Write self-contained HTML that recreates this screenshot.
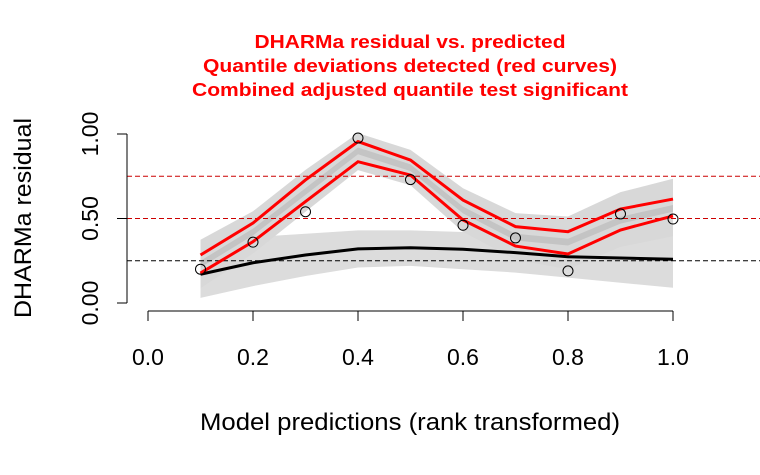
<!DOCTYPE html>
<html><head><meta charset="utf-8"><style>
body{margin:0;background:#fff}
svg text{font-family:"Liberation Sans",Arial,sans-serif}
</style></head><body>
<svg id="c" width="760" height="470">
<g fill="#ff0000" font-weight="bold" font-size="18" text-anchor="middle">
<text x="410" y="48" textLength="311" lengthAdjust="spacingAndGlyphs">DHARMa residual vs. predicted</text>
<text x="410" y="72" textLength="414" lengthAdjust="spacingAndGlyphs">Quantile deviations detected (red curves)</text>
<text x="410" y="96" textLength="436" lengthAdjust="spacingAndGlyphs">Combined adjusted quantile test significant</text>
</g>
<g id="plot"></g>
<text x="410" y="430" font-size="24" text-anchor="middle" textLength="420" lengthAdjust="spacingAndGlyphs">Model predictions (rank transformed)</text>
<text transform="translate(31,218) rotate(-90)" font-size="24" text-anchor="middle" textLength="200" lengthAdjust="spacingAndGlyphs">DHARMa residual</text>
</svg>
<script>
const xs=[0.1,0.2,0.3,0.4,0.5,0.6,0.7,0.8,0.9,1.0];
const resid=[0.2,0.36,0.54,0.976,0.73,0.46,0.385,0.19,0.527,0.497];
const qUpper=[0.284,0.473,0.728,0.955,0.846,0.609,0.452,0.422,0.556,0.615];
const qLower=[0.177,0.363,0.6,0.836,0.757,0.491,0.337,0.29,0.432,0.515];
const qMid=[0.23,0.42,0.66,0.9,0.8,0.55,0.39,0.36,0.49,0.56];
const smooth=[0.17,0.238,0.284,0.32,0.327,0.318,0.298,0.274,0.266,0.259];
const smoothHi=[0.37,0.39,0.41,0.43,0.43,0.42,0.41,0.41,0.41,0.42];
const smoothLo=[0.03,0.1,0.16,0.21,0.22,0.2,0.18,0.15,0.12,0.09];
const bandPad=[0.09,0.07,0.06,0.05,0.06,0.07,0.08,0.09,0.1,0.12];
const xTicks=[0,0.2,0.4,0.6,0.8,1.0];
const yTicks=[0,0.5,1.0];
const hLines=[0.25,0.5,0.75];
const X=v=>148+525*v, Y=v=>303-169*v;
const NS="http://www.w3.org/2000/svg", g=document.getElementById('plot');
function mk(t,a){const e=document.createElementNS(NS,t);for(const k in a)e.setAttribute(k,a[k]);g.appendChild(e);return e;}
function poly(hi,lo){return xs.map((x,i)=>X(x)+','+Y(hi[i])).concat(xs.map((x,i)=>X(x)+','+Y(lo[i])).reverse()).join(' ');}
let e;
e=mk('polygon',{points:poly(smoothHi,smoothLo),fill:'#dcdcdc'});


e=mk('polygon',{points:poly(qUpper.map((v,i)=>v+bandPad[i]),qLower.map((v,i)=>v-bandPad[i])),fill:'#d8d8d8'});


e=mk('polygon',{points:poly(qMid.map(v=>v+0.02),qMid.map(v=>v-0.02)),fill:'#c4c4c4'});


hLines.forEach((h,i)=>{e=mk('line',{x1:127,x2:760,y1:Y(h),y2:Y(h),stroke:i==0?'#000':'#c00',"stroke-dasharray":'5,3'});

});
const pl=a=>xs.map((x,i)=>X(x)+','+Y(a[i])).join(' ');
e=mk('polyline',{points:pl(smooth),fill:'none',stroke:'#000','stroke-width':3});


e=mk('polyline',{points:pl(qUpper),fill:'none',stroke:'#f00','stroke-width':3});


e=mk('polyline',{points:pl(qLower),fill:'none',stroke:'#f00','stroke-width':3});


xs.forEach((x,i)=>{e=mk('circle',{cx:X(x),cy:Y(resid[i]),r:5,fill:'none',stroke:'#000'});

});
e=mk('line',{x1:127,x2:127,y1:Y(1),y2:Y(0),stroke:'#000'});


yTicks.forEach(v=>{mk('line',{x1:117,x2:127,y1:Y(v),y2:Y(v),stroke:'#000'});
e=mk('text',{transform:`translate(98,${Y(v)}) rotate(-90)`,'font-size':23,'text-anchor':'middle'});e.textContent=v.toFixed(2);

});
e=mk('line',{x1:X(0),x2:X(1),y1:311,y2:311,stroke:'#000'});


xTicks.forEach(v=>{mk('line',{x1:X(v),x2:X(v),y1:311,y2:321,stroke:'#000'});
e=mk('text',{x:X(v),y:365,'font-size':23,'text-anchor':'middle'});e.textContent=v.toFixed(1);

});
</script>
</body></html>
